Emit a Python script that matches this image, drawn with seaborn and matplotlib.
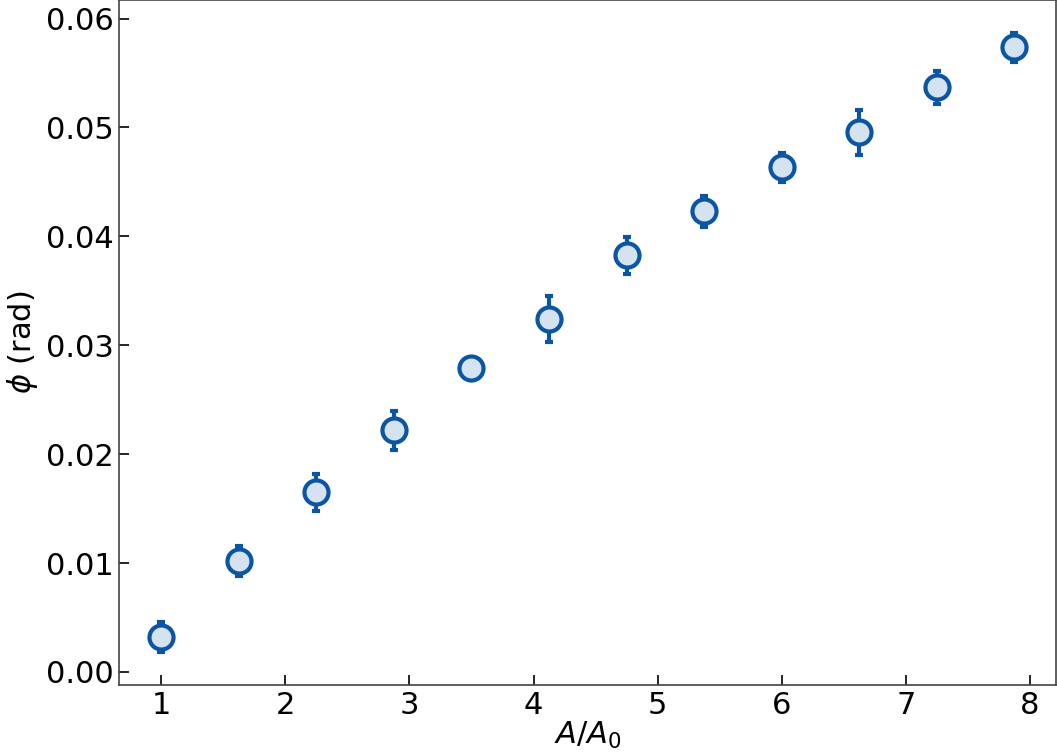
import numpy as np
import pandas as pd
import matplotlib
matplotlib.use("Agg")
import matplotlib.pyplot as plt
import seaborn as sns

# values
ratio = [1.0, 1.625, 2.25, 2.875, 3.5, 4.125, 4.75, 5.375, 6.0, 6.625, 7.25, 7.875]
phi = [0.00321, 0.01018, 0.01651, 0.0222, 0.02789, 0.0324,
       0.03826, 0.0423, 0.04633, 0.04954, 0.05367, 0.05734]
phi_err = [0.0014, 0.0014, 0.0017, 0.0018, 0.0009, 0.0021,
           0.0017, 0.0014, 0.0013, 0.0021, 0.0015, 0.0013]

data = pd.DataFrame({"ratio": ratio, "phi": phi, "err": phi_err})

edge = "#0b56a4"
fill = "#d5e3f1"

sns.set_style("ticks")
plt.rcParams["font.family"] = ["DejaVu Sans"]
plt.rcParams["text.color"] = "black"
plt.rcParams["axes.labelcolor"] = "black"
plt.rcParams["xtick.color"] = "black"
plt.rcParams["ytick.color"] = "black"

fig = plt.figure(figsize=(10.57, 7.53), dpi=100)
ax = fig.add_axes([0.1126, 0.0903, 0.8865, 0.9097])

ax.errorbar(data["ratio"], data["phi"], yerr=data["err"], fmt="none",
            ecolor=edge, elinewidth=3, capsize=3, capthick=3, zorder=2)
sns.scatterplot(data=data, x="ratio", y="phi", ax=ax, s=300, color=fill,
                edgecolor=edge, linewidth=3, zorder=3, legend=False)

ax.set_xlim(0.66, 8.21)
ax.set_ylim(-0.0012, 0.0617)
ax.set_xticks(range(1, 9))
ax.set_yticks([0.0, 0.01, 0.02, 0.03, 0.04, 0.05, 0.06])
ax.set_yticklabels(["0.00", "0.01", "0.02", "0.03", "0.04", "0.05", "0.06"])

ax.set_xlabel("$A/A_0$", fontsize=22, labelpad=0)
ax.set_ylabel("$\\phi$ (rad)", fontsize=22, labelpad=4)
ax.tick_params(axis="both", direction="in", length=7, width=1.2,
               labelsize=22, colors="black", pad=4)
for sp in ax.spines.values():
    sp.set_color("#444444")
    sp.set_linewidth(1.2)

fig.savefig("out.png", dpi=100)
